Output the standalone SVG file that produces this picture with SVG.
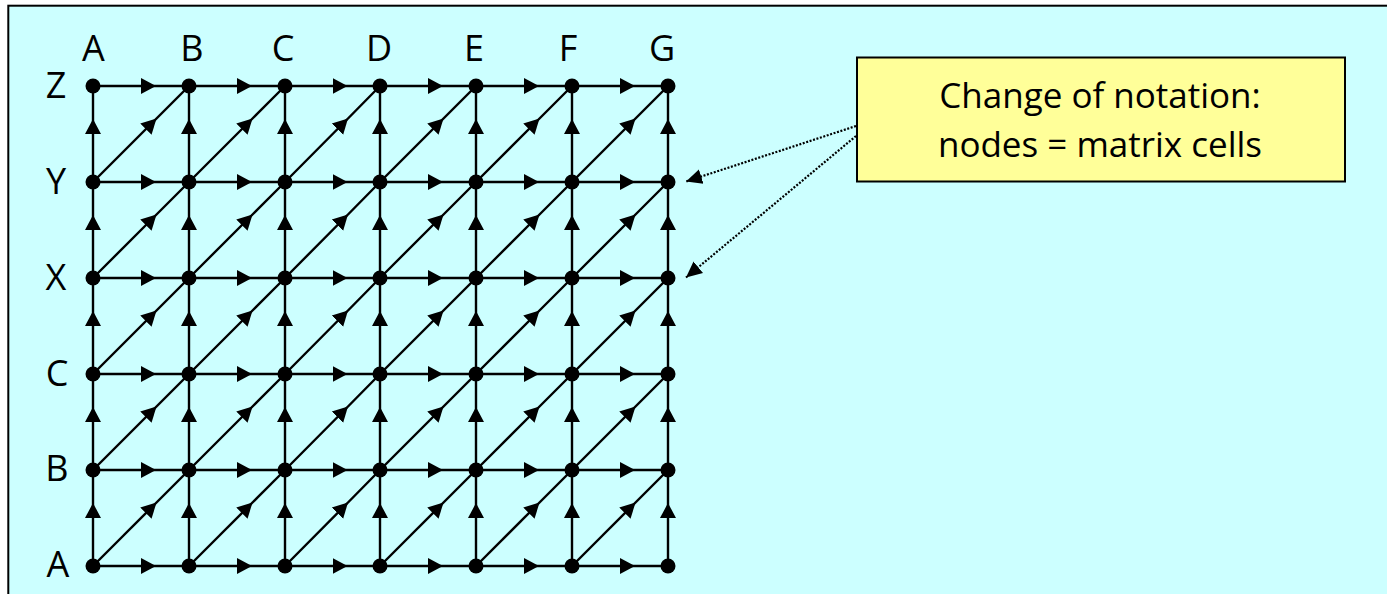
<svg xmlns="http://www.w3.org/2000/svg" width="1387" height="594" viewBox="0 0 1387 594">
<defs>
<style>
.lbl{font-family:"Open Sans","Liberation Sans",sans-serif;font-size:36px;fill:#000;text-anchor:middle}
.e{fill:none;stroke:#000;stroke-width:2.4;marker-mid:url(#ah)}
.d{fill:none;stroke:#000;stroke-width:2.2;stroke-dasharray:2 1.6;marker-end:url(#ah2)}
.n{fill:#000}
</style>
<marker id="ah" markerUnits="userSpaceOnUse" markerWidth="16" markerHeight="18" viewBox="0 0 16 18" refX="15" refY="9" orient="auto">
<path d="M0 1L15 9L0 17z" fill="#000"/>
</marker>
<marker id="ah2" markerUnits="userSpaceOnUse" markerWidth="17" markerHeight="17" viewBox="0 0 17 17" refX="16" refY="8.5" orient="auto">
<path d="M0 1L16 8.5L0 16z" fill="#000"/>
</marker>
</defs>
<rect x="0" y="0" width="1387" height="594" fill="#fff"/>
<rect x="8.3" y="5.7" width="1400" height="600" fill="#CCFFFF" stroke="#000" stroke-width="2"/>
<g id="axis-labels">
<text class="lbl" x="93.5" y="61">A</text>
<text class="lbl" x="192" y="61">B</text>
<text class="lbl" x="283" y="61">C</text>
<text class="lbl" x="379" y="61">D</text>
<text class="lbl" x="474" y="61">E</text>
<text class="lbl" x="568" y="61">F</text>
<text class="lbl" x="662" y="61">G</text>
<text class="lbl" x="56" y="98">Z</text>
<text class="lbl" x="56" y="194">Y</text>
<text class="lbl" x="56" y="290">X</text>
<text class="lbl" x="57" y="386">C</text>
<text class="lbl" x="57" y="481">B</text>
<text class="lbl" x="58" y="577">A</text>
</g>
<g id="connectors">
<path class="e" d="M93 86L156 86L189 86"/><path class="e" d="M189 86L252 86L285 86"/><path class="e" d="M285 86L347.5 86L380 86"/><path class="e" d="M380 86L443 86L476 86"/><path class="e" d="M476 86L539 86L572 86"/><path class="e" d="M572 86L635 86L668 86"/>
<path class="e" d="M93 182L156 182L189 182"/><path class="e" d="M189 182L252 182L285 182"/><path class="e" d="M285 182L347.5 182L380 182"/><path class="e" d="M380 182L443 182L476 182"/><path class="e" d="M476 182L539 182L572 182"/><path class="e" d="M572 182L635 182L668 182"/>
<path class="e" d="M93 278L156 278L189 278"/><path class="e" d="M189 278L252 278L285 278"/><path class="e" d="M285 278L347.5 278L380 278"/><path class="e" d="M380 278L443 278L476 278"/><path class="e" d="M476 278L539 278L572 278"/><path class="e" d="M572 278L635 278L668 278"/>
<path class="e" d="M93 374L156 374L189 374"/><path class="e" d="M189 374L252 374L285 374"/><path class="e" d="M285 374L347.5 374L380 374"/><path class="e" d="M380 374L443 374L476 374"/><path class="e" d="M476 374L539 374L572 374"/><path class="e" d="M572 374L635 374L668 374"/>
<path class="e" d="M93 470L156 470L189 470"/><path class="e" d="M189 470L252 470L285 470"/><path class="e" d="M285 470L347.5 470L380 470"/><path class="e" d="M380 470L443 470L476 470"/><path class="e" d="M476 470L539 470L572 470"/><path class="e" d="M572 470L635 470L668 470"/>
<path class="e" d="M93 566L156 566L189 566"/><path class="e" d="M189 566L252 566L285 566"/><path class="e" d="M285 566L347.5 566L380 566"/><path class="e" d="M380 566L443 566L476 566"/><path class="e" d="M476 566L539 566L572 566"/><path class="e" d="M572 566L635 566L668 566"/>
<path class="e" d="M93 182L93 119L93 86"/><path class="e" d="M93 278L93 215L93 182"/><path class="e" d="M93 374L93 311L93 278"/><path class="e" d="M93 470L93 407L93 374"/><path class="e" d="M93 566L93 503L93 470"/>
<path class="e" d="M189 182L189 119L189 86"/><path class="e" d="M189 278L189 215L189 182"/><path class="e" d="M189 374L189 311L189 278"/><path class="e" d="M189 470L189 407L189 374"/><path class="e" d="M189 566L189 503L189 470"/>
<path class="e" d="M285 182L285 119L285 86"/><path class="e" d="M285 278L285 215L285 182"/><path class="e" d="M285 374L285 311L285 278"/><path class="e" d="M285 470L285 407L285 374"/><path class="e" d="M285 566L285 503L285 470"/>
<path class="e" d="M380 182L380 119L380 86"/><path class="e" d="M380 278L380 215L380 182"/><path class="e" d="M380 374L380 311L380 278"/><path class="e" d="M380 470L380 407L380 374"/><path class="e" d="M380 566L380 503L380 470"/>
<path class="e" d="M476 182L476 119L476 86"/><path class="e" d="M476 278L476 215L476 182"/><path class="e" d="M476 374L476 311L476 278"/><path class="e" d="M476 470L476 407L476 374"/><path class="e" d="M476 566L476 503L476 470"/>
<path class="e" d="M572 182L572 119L572 86"/><path class="e" d="M572 278L572 215L572 182"/><path class="e" d="M572 374L572 311L572 278"/><path class="e" d="M572 470L572 407L572 374"/><path class="e" d="M572 566L572 503L572 470"/>
<path class="e" d="M668 182L668 119L668 86"/><path class="e" d="M668 278L668 215L668 182"/><path class="e" d="M668 374L668 311L668 278"/><path class="e" d="M668 470L668 407L668 374"/><path class="e" d="M668 566L668 503L668 470"/>
<path class="e" d="M93 182L156.5 118.5L189 86"/><path class="e" d="M189 182L252.5 118.5L285 86"/><path class="e" d="M285 182L348 118.5L380 86"/><path class="e" d="M380 182L443.5 118.5L476 86"/><path class="e" d="M476 182L539.5 118.5L572 86"/><path class="e" d="M572 182L635.5 118.5L668 86"/>
<path class="e" d="M93 278L156.5 214.5L189 182"/><path class="e" d="M189 278L252.5 214.5L285 182"/><path class="e" d="M285 278L348 214.5L380 182"/><path class="e" d="M380 278L443.5 214.5L476 182"/><path class="e" d="M476 278L539.5 214.5L572 182"/><path class="e" d="M572 278L635.5 214.5L668 182"/>
<path class="e" d="M93 374L156.5 310.5L189 278"/><path class="e" d="M189 374L252.5 310.5L285 278"/><path class="e" d="M285 374L348 310.5L380 278"/><path class="e" d="M380 374L443.5 310.5L476 278"/><path class="e" d="M476 374L539.5 310.5L572 278"/><path class="e" d="M572 374L635.5 310.5L668 278"/>
<path class="e" d="M93 470L156.5 406.5L189 374"/><path class="e" d="M189 470L252.5 406.5L285 374"/><path class="e" d="M285 470L348 406.5L380 374"/><path class="e" d="M380 470L443.5 406.5L476 374"/><path class="e" d="M476 470L539.5 406.5L572 374"/><path class="e" d="M572 470L635.5 406.5L668 374"/>
<path class="e" d="M93 566L156.5 502.5L189 470"/><path class="e" d="M189 566L252.5 502.5L285 470"/><path class="e" d="M285 566L348 502.5L380 470"/><path class="e" d="M380 566L443.5 502.5L476 470"/><path class="e" d="M476 566L539.5 502.5L572 470"/><path class="e" d="M572 566L635.5 502.5L668 470"/>
<path class="d" d="M856 126L686 181.5"/>
<path class="d" d="M856 136L686 277.5"/>
</g>
<g id="nodes">
<g id="n-A-Z"><circle class="n" cx="93" cy="86" r="7.5"/></g><g id="n-B-Z"><circle class="n" cx="189" cy="86" r="7.5"/></g><g id="n-C-Z"><circle class="n" cx="285" cy="86" r="7.5"/></g><g id="n-D-Z"><circle class="n" cx="380" cy="86" r="7.5"/></g><g id="n-E-Z"><circle class="n" cx="476" cy="86" r="7.5"/></g><g id="n-F-Z"><circle class="n" cx="572" cy="86" r="7.5"/></g><g id="n-G-Z"><circle class="n" cx="668" cy="86" r="7.5"/></g>
<g id="n-A-Y"><circle class="n" cx="93" cy="182" r="7.5"/></g><g id="n-B-Y"><circle class="n" cx="189" cy="182" r="7.5"/></g><g id="n-C-Y"><circle class="n" cx="285" cy="182" r="7.5"/></g><g id="n-D-Y"><circle class="n" cx="380" cy="182" r="7.5"/></g><g id="n-E-Y"><circle class="n" cx="476" cy="182" r="7.5"/></g><g id="n-F-Y"><circle class="n" cx="572" cy="182" r="7.5"/></g><g id="n-G-Y"><circle class="n" cx="668" cy="182" r="7.5"/></g>
<g id="n-A-X"><circle class="n" cx="93" cy="278" r="7.5"/></g><g id="n-B-X"><circle class="n" cx="189" cy="278" r="7.5"/></g><g id="n-C-X"><circle class="n" cx="285" cy="278" r="7.5"/></g><g id="n-D-X"><circle class="n" cx="380" cy="278" r="7.5"/></g><g id="n-E-X"><circle class="n" cx="476" cy="278" r="7.5"/></g><g id="n-F-X"><circle class="n" cx="572" cy="278" r="7.5"/></g><g id="n-G-X"><circle class="n" cx="668" cy="278" r="7.5"/></g>
<g id="n-A-C"><circle class="n" cx="93" cy="374" r="7.5"/></g><g id="n-B-C"><circle class="n" cx="189" cy="374" r="7.5"/></g><g id="n-C-C"><circle class="n" cx="285" cy="374" r="7.5"/></g><g id="n-D-C"><circle class="n" cx="380" cy="374" r="7.5"/></g><g id="n-E-C"><circle class="n" cx="476" cy="374" r="7.5"/></g><g id="n-F-C"><circle class="n" cx="572" cy="374" r="7.5"/></g><g id="n-G-C"><circle class="n" cx="668" cy="374" r="7.5"/></g>
<g id="n-A-B"><circle class="n" cx="93" cy="470" r="7.5"/></g><g id="n-B-B"><circle class="n" cx="189" cy="470" r="7.5"/></g><g id="n-C-B"><circle class="n" cx="285" cy="470" r="7.5"/></g><g id="n-D-B"><circle class="n" cx="380" cy="470" r="7.5"/></g><g id="n-E-B"><circle class="n" cx="476" cy="470" r="7.5"/></g><g id="n-F-B"><circle class="n" cx="572" cy="470" r="7.5"/></g><g id="n-G-B"><circle class="n" cx="668" cy="470" r="7.5"/></g>
<g id="n-A-A"><circle class="n" cx="93" cy="566" r="7.5"/></g><g id="n-B-A"><circle class="n" cx="189" cy="566" r="7.5"/></g><g id="n-C-A"><circle class="n" cx="285" cy="566" r="7.5"/></g><g id="n-D-A"><circle class="n" cx="380" cy="566" r="7.5"/></g><g id="n-E-A"><circle class="n" cx="476" cy="566" r="7.5"/></g><g id="n-F-A"><circle class="n" cx="572" cy="566" r="7.5"/></g><g id="n-G-A"><circle class="n" cx="668" cy="566" r="7.5"/></g>
</g>
<g id="note">
<rect x="857" y="57.5" width="488" height="124" fill="#FFFF99" stroke="#000" stroke-width="2"/>
<text class="lbl" x="1100" y="108" style="font-size:35px">Change of notation:</text>
<text class="lbl" x="1100" y="157" style="font-size:35px">nodes = matrix cells</text>
</g>
</svg>
